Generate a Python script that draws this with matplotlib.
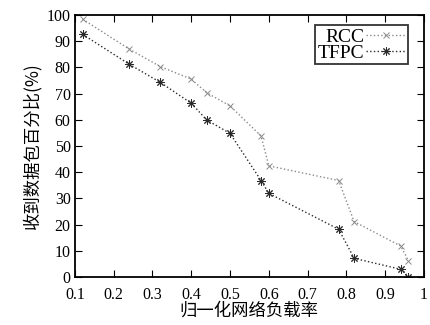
import matplotlib.pyplot as plt
import numpy as np

plt.rcParams['font.family'] = ['Liberation Serif', 'Noto Sans CJK SC', 'DejaVu Sans']

# data
rcc_x = [0.12, 0.24, 0.32, 0.40, 0.44, 0.50, 0.58, 0.60, 0.78, 0.82, 0.94, 0.96]
rcc_y = [98.4, 87.0, 80.3, 75.5, 70.3, 65.3, 53.8, 42.4, 36.8, 21.1, 11.8, 6.2]
tfpc_x = [0.12, 0.24, 0.32, 0.40, 0.44, 0.50, 0.58, 0.60, 0.78, 0.82, 0.94, 0.96]
tfpc_y = [92.6, 81.2, 74.3, 66.3, 59.9, 54.8, 36.8, 31.9, 18.2, 7.1, 2.9, 0.1]

x_ticks = [0.1, 0.2, 0.3, 0.4, 0.5, 0.6, 0.7, 0.8, 0.9, 1.0]
x_labels = ['0.1', '0.2', '0.3', '0.4', '0.5', '0.6', '0.7', '0.8', '0.9', '1']
y_ticks = [0, 10, 20, 30, 40, 50, 60, 70, 80, 90, 100]

fig = plt.figure(figsize=(4.3, 3.25), dpi=100)
ax = fig.add_axes([0.174, 0.148, 0.812, 0.806])

ax.plot(rcc_x, rcc_y, linestyle=':', color='#8a8a8a', linewidth=1.0,
        marker='x', markersize=5, markeredgewidth=0.7, label='RCC')
ax.plot(tfpc_x, tfpc_y, linestyle=':', color='#2a2a2a', linewidth=1.0,
        marker=(8, 2, 0), markersize=6, markeredgewidth=0.7, label='TFPC')

ax.set_xlim(0.1, 1.0)
ax.set_ylim(0, 100)
ax.set_xticks(x_ticks)
ax.set_xticklabels(x_labels)
ax.set_yticks(y_ticks)
ax.tick_params(direction='in', top=True, right=True, length=5, width=0.8,
               labelsize=11.5)
ax.tick_params(axis='x', pad=7)
ax.tick_params(axis='y', pad=3)
for s in ax.spines.values():
    s.set_linewidth(1.3)

ax.set_xlabel('归一化网络负载率', fontsize=12.5, labelpad=-1,
              family=['Noto Sans CJK SC', 'DejaVu Sans'])
ax.set_ylabel('收到数据包百分比(%)', fontsize=12.5, labelpad=4,
              family=['Noto Sans CJK SC', 'DejaVu Sans'])

leg = ax.legend(loc='upper right', bbox_to_anchor=(0.965, 0.975), markerfirst=False,
                fontsize=14, frameon=True, fancybox=False, handlelength=2.0,
                handletextpad=0.1, borderpad=0.15, labelspacing=-0.1,
                borderaxespad=0.2)
leg.get_frame().set_edgecolor('black')
leg.get_frame().set_linewidth(1.3)

fig.savefig('out.png', dpi=100)
